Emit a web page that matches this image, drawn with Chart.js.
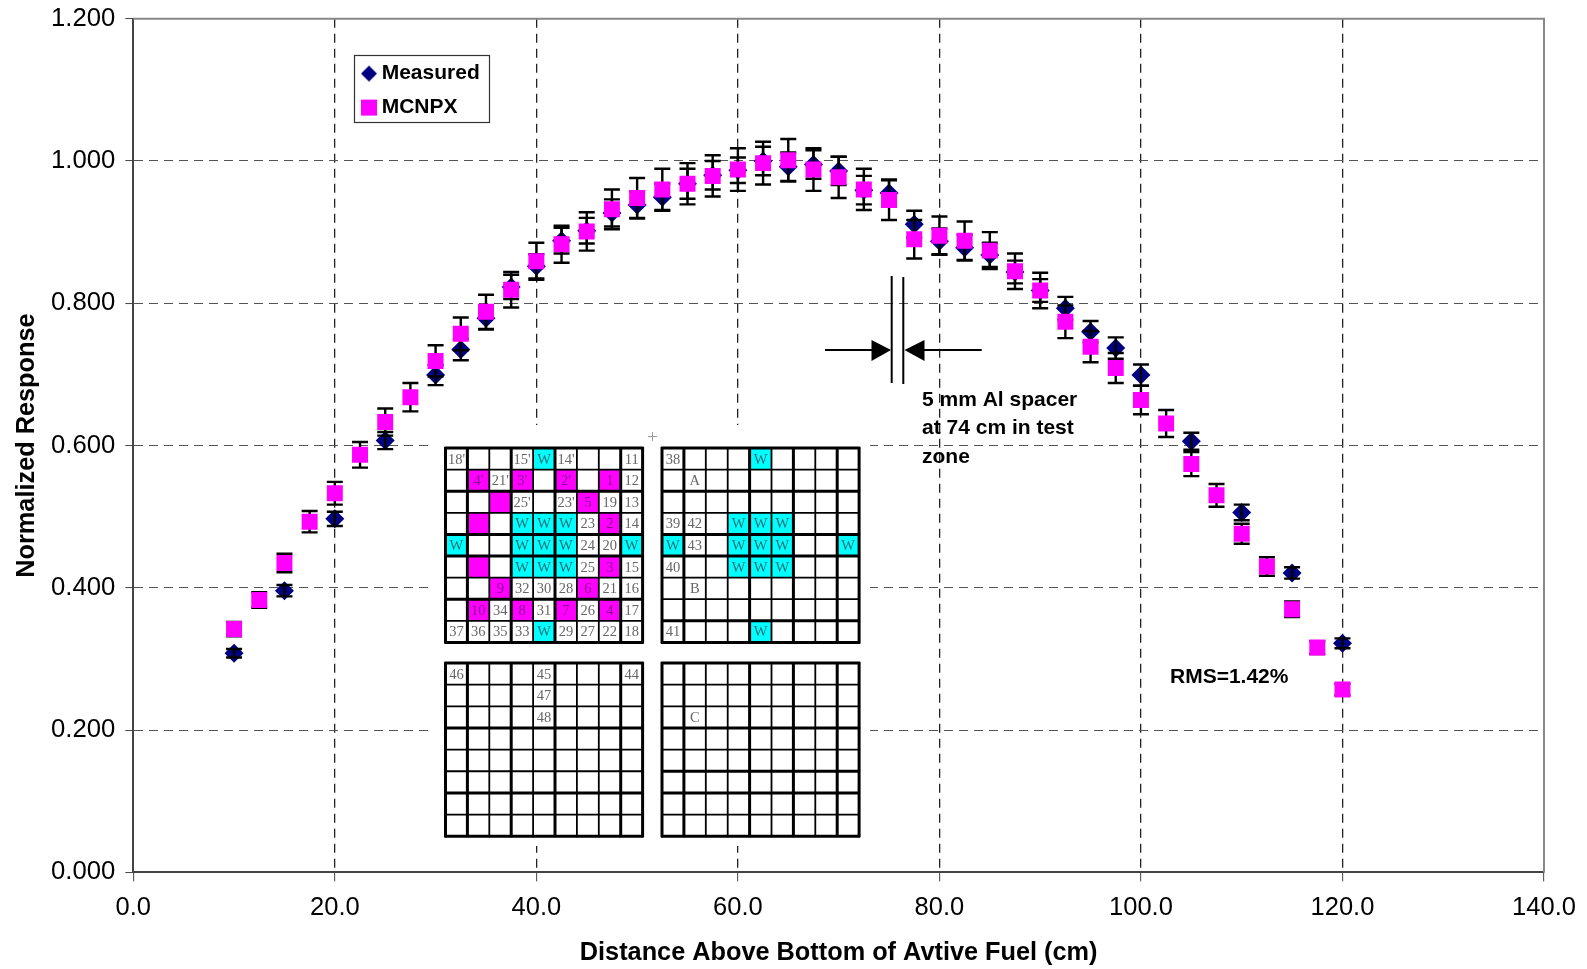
<!DOCTYPE html>
<html>
<head>
<meta charset="utf-8">
<style>html,body{margin:0;padding:0;background:#fff}canvas{display:block}</style>
<script src="https://cdn.jsdelivr.net/npm/chart.js@4"></script>
</head>
<body>
<canvas id="c" width="1587" height="969"></canvas>
<script>
const mcnpxX = [10,12.5,15,17.5,20,22.5,25,27.5,30,32.5,35,37.5,40,42.5,45,47.5,50,52.5,55,57.5,60,62.5,65,67.5,70,72.5,75,77.5,80,82.5,85,87.5,90,92.5,95,97.5,100,102.5,105,107.5,110,112.5,115,117.5,120];
const mcnpxY = [0.342,0.383,0.435,0.493,0.533,0.587,0.633,0.668,0.719,0.757,0.788,0.819,0.859,0.883,0.901,0.932,0.948,0.960,0.968,0.979,0.988,0.997,1.001,0.988,0.977,0.960,0.945,0.890,0.895,0.888,0.874,0.845,0.818,0.774,0.739,0.709,0.664,0.631,0.574,0.530,0.476,0.430,0.370,0.316,0.257];
const mcnpxErr = [0.010,0.011,0.013,0.015,0.016,0.018,0.019,0.020,0.022,0.023,0.024,0.025,0.026,0.026,0.027,0.028,0.028,0.029,0.029,0.029,0.030,0.030,0.030,0.030,0.029,0.029,0.028,0.027,0.027,0.027,0.026,0.025,0.025,0.023,0.022,0.021,0.020,0.019,0.017,0.016,0.014,0.013,0.011,0.009,0.008];
const measuredX = [10,15,20,25,30,32.5,35,37.5,40,42.5,45,47.5,50,52.5,55,57.5,60,62.5,65,67.5,70,72.5,75,77.5,80,82.5,85,87.5,90,92.5,95,97.5,100,105,110,115,120];
const measuredY = [0.308,0.396,0.497,0.607,0.699,0.735,0.779,0.823,0.852,0.888,0.902,0.927,0.938,0.949,0.968,0.980,0.987,1.000,0.992,0.995,0.986,0.959,0.955,0.911,0.887,0.878,0.868,0.844,0.818,0.793,0.760,0.737,0.699,0.606,0.506,0.421,0.322];
const measuredErr = [0.006,0.008,0.010,0.012,0.014,0.015,0.016,0.017,0.017,0.018,0.018,0.019,0.019,0.019,0.021,0.020,0.018,0.020,0.020,0.020,0.020,0.020,0.019,0.019,0.018,0.018,0.017,0.016,0.016,0.016,0.015,0.015,0.015,0.012,0.011,0.008,0.007];
const seriesNames = ['Measured','MCNPX'];
const xTitle = 'Distance Above Bottom of Avtive Fuel (cm)';
const yTitle = 'Normalized Response';
const spacerNote = ['5 mm Al spacer','at 74 cm in test','zone'];
const rmsNote = 'RMS=1.42%';
/* inset core maps: "m:" magenta cell, "c:" cyan cell, plain text white cell */
const coreA = [
 ["18'","","","15'","c:W","14'","","","11"],
 ["","m:4'","21'","m:3'","","m:2'","","m:1","12"],
 ["","","m:","25'","","23'","m:5","19","13"],
 ["","m:","","c:W","c:W","c:W","23","m:2","14"],
 ["c:W","","","c:W","c:W","c:W","24","20","c:W"],
 ["","m:","","c:W","c:W","c:W","25","m:3","15"],
 ["","","m:9","32","30","28","m:6","21","16"],
 ["","m:10","34","m:8","31","m:7","26","m:4","17"],
 ["37","36","35","33","c:W","29","27","22","18"]];
const coreB = [
 ["38","","","","c:W","","","",""],
 ["","A","","","","","","",""],
 ["","","","","","","","",""],
 ["39","42","","c:W","c:W","c:W","","",""],
 ["c:W","43","","c:W","c:W","c:W","","","c:W"],
 ["40","","","c:W","c:W","c:W","","",""],
 ["","B","","","","","","",""],
 ["","","","","","","","",""],
 ["41","","","","c:W","","","",""]];
const coreC = [
 ["46","","","","45","","","","44"],
 ["","","","","47","","","",""],
 ["","","","","48","","","",""],
 ["","","","","","","","",""],
 ["","","","","","","","",""],
 ["","","","","","","","",""],
 ["","","","","","","","",""],
 ["","","","","","","","",""]];
const coreD = [
 ["","","","","","","","",""],
 ["","","","","","","","",""],
 ["","C","","","","","","",""],
 ["","","","","","","","",""],
 ["","","","","","","","",""],
 ["","","","","","","","",""],
 ["","","","","","","","",""],
 ["","","","","","","","",""]];

const pts = (xs, ys) => xs.map((x, i) => ({x, y: ys[i]}));
const SANS = '"Liberation Sans", Arial, sans-serif';
const NAVY = '#000080', MAG = '#ff00ff', CYAN = '#00ffff';

function markerCanvas(kind, color) {
  const c = document.createElement('canvas'); c.width = 18; c.height = 18;
  const g = c.getContext('2d'); g.fillStyle = color; g.beginPath();
  if (kind === 'diamond') { g.moveTo(9,1); g.lineTo(17,9); g.lineTo(9,17); g.lineTo(1,9); g.closePath(); }
  else g.rect(1,1,16,16);
  g.fill(); return c;
}

function errBars(chart, xs, ys, es) {
  const {ctx, scales:{x, y}} = chart;
  ctx.save(); ctx.strokeStyle = '#000'; ctx.lineWidth = 2.4; ctx.beginPath();
  xs.forEach((v, i) => {
    const px = x.getPixelForValue(v), t = y.getPixelForValue(ys[i] + es[i]), b = y.getPixelForValue(ys[i] - es[i]);
    ctx.moveTo(px, t); ctx.lineTo(px, b);
    ctx.moveTo(px - 8, t); ctx.lineTo(px + 8, t);
    ctx.moveTo(px - 8, b); ctx.lineTo(px + 8, b);
  });
  ctx.stroke(); ctx.restore();
}

function drawCore(ctx, map, left, top, cw, ch, thickCols, thickRows) {
  const rows = map.length, cols = map[0].length;
  ctx.textAlign = 'center'; ctx.textBaseline = 'middle'; ctx.font = '14.5px "Liberation Serif", serif';
  map.forEach((row, r) => row.forEach((cell, c) => {
    const kind = cell.startsWith('m:') ? 'm' : cell.startsWith('c:') ? 'c' : '';
    const label = kind ? cell.slice(2) : cell;
    const cx = left + c * cw, cy = top + r * ch;
    if (kind) { ctx.fillStyle = kind === 'm' ? MAG : CYAN; ctx.fillRect(cx, cy, cw, ch); }
    if (label) {
      ctx.fillStyle = kind === 'm' ? '#8a0090' : kind === 'c' ? '#1f6f75' : '#666';
      ctx.fillText(label, cx + cw / 2, cy + ch / 2 + 1);
    }
  }));
  ctx.strokeStyle = '#000';
  for (let i = 0; i <= cols; i++) {
    ctx.lineWidth = (i === 0 || i === cols || thickCols.includes(i)) ? 3 : 1.8;
    ctx.beginPath(); ctx.moveTo(left + i * cw, top - 1); ctx.lineTo(left + i * cw, top + rows * ch + 1); ctx.stroke();
  }
  for (let j = 0; j <= rows; j++) {
    ctx.lineWidth = (j === 0 || j === rows || thickRows.includes(j)) ? 3 : 1.8;
    ctx.beginPath(); ctx.moveTo(left - 1, top + j * ch); ctx.lineTo(left + cols * cw + 1, top + j * ch); ctx.stroke();
  }
}

const overlay = {
  id: 'overlay',
  afterLayout(chart) {
    const l = chart.legend; const dx = 353.8 - l.left, dy = 50.1 - l.top;
    l.left += dx; l.right += dx; l.top += dy; l.bottom += 400;
  },
  beforeDatasetsDraw(chart) {
    const {ctx, chartArea:a} = chart;
    ctx.save();
    /* plot frame top and right */
    ctx.strokeStyle = '#888'; ctx.lineWidth = 2;
    ctx.beginPath(); ctx.moveTo(a.left, a.top); ctx.lineTo(a.right, a.top); ctx.lineTo(a.right, a.bottom); ctx.stroke();
    /* legend frame */
    ctx.strokeStyle = '#333'; ctx.lineWidth = 1.2; ctx.strokeRect(354.5, 55.5, 135, 67);
    /* inset picture */
    ctx.fillStyle = '#fff'; ctx.fillRect(433, 425, 437, 421);
    drawCore(ctx, coreA, 445.5, 448, 21.9, 21.6, [1,3,5,8], [2,4,5,7]);
    drawCore(ctx, coreB, 662, 448, 21.9, 21.6, [1,4,6,8], [2,4,5,8]);
    drawCore(ctx, coreC, 445.5, 663, 21.9, 21.65, [1,3,5,8], [3,6]);
    drawCore(ctx, coreD, 662, 663, 21.9, 21.65, [1,4,6,8], [3,5,6]);
    ctx.strokeStyle = '#999'; ctx.lineWidth = 1;
    ctx.beginPath(); ctx.moveTo(648, 436.5); ctx.lineTo(657, 436.5); ctx.moveTo(652.5, 432); ctx.lineTo(652.5, 441); ctx.stroke();
    /* spacer marks */
    ctx.strokeStyle = '#000'; ctx.fillStyle = '#000'; ctx.lineWidth = 2;
    ctx.beginPath();
    ctx.moveTo(891.7, 276); ctx.lineTo(891.7, 383); ctx.moveTo(903.3, 277); ctx.lineTo(903.3, 384);
    ctx.moveTo(825, 350); ctx.lineTo(875, 350); ctx.moveTo(920, 350); ctx.lineTo(981.7, 350);
    ctx.stroke();
    ctx.beginPath(); ctx.moveTo(891, 350); ctx.lineTo(871.5, 340); ctx.lineTo(871.5, 361); ctx.closePath(); ctx.fill();
    ctx.beginPath(); ctx.moveTo(904.5, 350); ctx.lineTo(924.5, 340); ctx.lineTo(924.5, 361); ctx.closePath(); ctx.fill();
    /* notes */
    ctx.font = 'bold 21px ' + SANS; ctx.textAlign = 'left'; ctx.textBaseline = 'middle'; ctx.fillStyle = '#000';
    spacerNote.forEach((t, i) => ctx.fillText(t, 922, 400 + i * 28.5));
    ctx.fillText(rmsNote, 1170, 677);
    ctx.restore();
  },
  beforeDatasetDraw(chart, args) {
    if (args.index === 1) errBars(chart, mcnpxX, mcnpxY, mcnpxErr);
  },
  afterDatasetDraw(chart, args) {
    if (args.index === 0) errBars(chart, measuredX, measuredY, measuredErr);
  }
};

const edgeless = (v) => (c) => (c.index === 0 || c.tick.value === v) ? 'rgba(0,0,0,0)' : (v === 140 ? '#222' : '#555');

new Chart(document.getElementById('c'), {
  type: 'scatter',
  plugins: [overlay],
  data: { datasets: [
    { label: seriesNames[0], data: pts(measuredX, measuredY), order: 1, showLine: false, pointStyle: 'rectRot', pointRadius: 9.5, pointBorderWidth: 0, backgroundColor: NAVY, borderColor: NAVY },
    { label: seriesNames[1], data: pts(mcnpxX, mcnpxY), order: 0, showLine: false, pointStyle: 'rect', pointRadius: 11.3, pointBorderWidth: 0, backgroundColor: MAG, borderColor: MAG }
  ]},
  options: {
    responsive: false, animation: false, devicePixelRatio: 1,
    layout: { padding: { left: 0, top: 18.7, right: 43, bottom: 0 } },
    plugins: {
      tooltip: { enabled: false },
      title: { display: false },
      legend: {
        position: 'chartArea', align: 'start',
        labels: {
          usePointStyle: true, boxWidth: 4.4, boxHeight: 16, padding: 13, color: '#000',
          font: { family: SANS, size: 21, weight: 'bold' },
          sort: (a, b) => a.datasetIndex - b.datasetIndex,
          generateLabels: (chart) => Chart.defaults.plugins.legend.labels.generateLabels(chart).map((it) =>
            Object.assign(it, { pointStyle: it.datasetIndex === 0 ? markerCanvas('diamond', NAVY) : markerCanvas('square', MAG) }))
        }
      }
    },
    scales: {
      x: {
        type: 'linear', min: 0, max: 140,
        afterFit: (s) => { s.height = 96.6; s.paddingLeft = 0; s.paddingRight = 0; },
        border: { display: true, color: '#444', width: 2, dash: [9, 6] },
        grid: { color: edgeless(140), lineWidth: 1.3, tickColor: '#444', tickLength: 9, tickWidth: 1, tickBorderDash: [] },
        ticks: { stepSize: 20, maxRotation: 0, padding: 11, color: '#000', font: { family: SANS, size: 25.5 }, callback: (v) => v.toFixed(1) },
        title: { display: true, text: xTitle, color: '#000', font: { family: SANS, size: 25.3, weight: 'bold' }, padding: { top: 0, bottom: 1 } }
      },
      y: {
        type: 'linear', min: 0, max: 1.2,
        afterFit: (s) => { s.width = 133.3; s.paddingTop = 0; s.paddingBottom = 0; },
        border: { display: true, color: '#444', width: 2, dash: [9, 6] },
        grid: { color: edgeless(1.2), lineWidth: 1.1, tickColor: '#444', tickLength: 8, tickWidth: 1, tickBorderDash: [] },
        ticks: { stepSize: 0.2, padding: 10, color: '#000', font: { family: SANS, size: 25.7 }, callback: (v) => v.toFixed(3) },
        title: { display: true, text: yTitle, color: '#000', font: { family: SANS, size: 25.3, weight: 'bold' }, padding: { top: 12, bottom: 0 } }
      }
    }
  }
});
</script>
</body>
</html>
